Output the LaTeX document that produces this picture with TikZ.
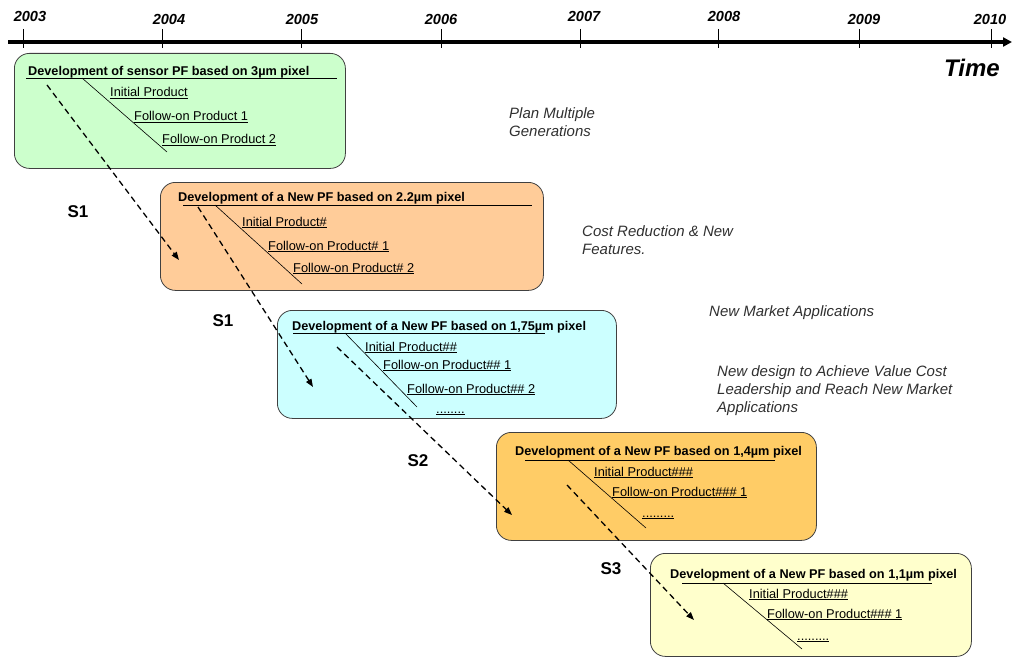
\documentclass[tikz,border=0pt]{standalone}
\usepackage{fontspec}
\setmainfont{Liberation Sans}
\usetikzlibrary{arrows.meta}
\definecolor{cgreen}{HTML}{CCFFCC}
\definecolor{cpeach}{HTML}{FFCC99}
\definecolor{ccyan}{HTML}{CCFFFF}
\definecolor{corange}{HTML}{FFCC66}
\definecolor{cyellow}{HTML}{FFFFCC}
\definecolor{notegray}{HTML}{303030}
\tikzset{
  pbox/.style={draw=black!75, line width=0.8pt, rounded corners=15pt},
  ttl/.style={anchor=base west, inner sep=0pt, font=\fontsize{12.7}{14}\selectfont\bfseries},
  item/.style={anchor=base west, inner sep=0pt, font=\fontsize{12.8}{14}\selectfont},
  uline/.style={line width=0.8pt},
  diag/.style={line width=0.6pt},
  note/.style={anchor=base west, inner sep=0pt, align=left, text=notegray, font=\fontsize{15}{18}\selectfont\itshape},
  yr/.style={anchor=base, inner sep=0pt, font=\fontsize{14.6}{16}\selectfont\bfseries\itshape},
  slabel/.style={inner sep=0pt, font=\fontsize{17}{20}\selectfont\bfseries},
  flow/.style={line width=1.3pt, dash pattern=on 6pt off 4pt, -{Triangle[length=8pt,width=6pt]}},
  tick/.style={line width=0.8pt}
}
\begin{document}
\begin{tikzpicture}[x=1pt,y=-1pt]
\useasboundingbox (0,0) rectangle (1012,658);
% timeline
\coordinate (ax0) at (8,42);
\coordinate (ax1) at (1012,42);
\draw[line width=3.5pt, -{Triangle[length=9pt,width=9pt]}] (ax0) -- (ax1);
\foreach \x/\y in {23/2003, 162/2004, 301/2005, 441/2006, 580/2007, 718/2008, 859/2009, 991/2010}{
  \coordinate (t\y a) at (\x,29);
  \coordinate (t\y b) at (\x,48);
  \draw[tick] (t\y a) -- (t\y b);
}
\node[yr] (y2003) at (30,22) {2003};
\node[yr] (y2004) at (169,25) {2004};
\node[yr] (y2005) at (302,25) {2005};
\node[yr] (y2006) at (441,25) {2006};
\node[yr] (y2007) at (584,22) {2007};
\node[yr] (y2008) at (724,22) {2008};
\node[yr] (y2009) at (864,25) {2009};
\node[yr] (y2010) at (990,25) {2010};
\node[anchor=base west, inner sep=0pt, font=\fontsize{24}{26}\selectfont\bfseries\itshape] (time) at (944,76.5) {Time};

% box 1
\node[pbox, fill=cgreen, minimum width=331pt, minimum height=115pt, anchor=north west] (b1) at (14,53) {};
\node[ttl] (b1t) at (28,75.5) {Development of sensor PF based on 3µm pixel};
\coordinate (b1u0) at (26,78); \coordinate (b1u1) at (337,78);
\draw[uline] (b1u0) -- (b1u1);
\coordinate (b1d0) at (82,78); \coordinate (b1d1) at (167,152);
\draw[diag] (b1d0) -- (b1d1);
\node[item] (b1i1) at (110,97) {\underline{Initial Product}};
\node[item] (b1i2) at (134,121) {\underline{Follow-on Product 1}};
\node[item] (b1i3) at (162,144) {\underline{Follow-on Product 2}};

% box 2
\node[pbox, fill=cpeach, minimum width=383pt, minimum height=108pt, anchor=north west] (b2) at (160,182) {};
\node[ttl] (b2t) at (178,201.5) {Development of a New PF based on 2.2µm pixel};
\coordinate (b2u0) at (183,205); \coordinate (b2u1) at (532,205);
\draw[uline] (b2u0) -- (b2u1);
\coordinate (b2d0) at (215,205); \coordinate (b2d1) at (302,284);
\draw[diag] (b2d0) -- (b2d1);
\node[item] (b2i1) at (242,226) {\underline{Initial Product\#}};
\node[item] (b2i2) at (268,250) {\underline{Follow-on Product\# 1}};
\node[item] (b2i3) at (293,272) {\underline{Follow-on Product\# 2}};

% box 3
\node[pbox, fill=ccyan, minimum width=339pt, minimum height=108pt, anchor=north west] (b3) at (277,310) {};
\node[ttl] (b3t) at (292,330.5) {Development of a New PF based on 1,75µm pixel};
\coordinate (b3u0) at (293,333); \coordinate (b3u1) at (545,333);
\draw[uline] (b3u0) -- (b3u1);
\coordinate (b3d0) at (345,333); \coordinate (b3d1) at (417,407);
\draw[diag] (b3d0) -- (b3d1);
\node[item] (b3i1) at (365,351) {\underline{Initial Product\#\#}};
\node[item] (b3i2) at (383,369) {\underline{Follow-on Product\#\# 1}};
\node[item] (b3i3) at (407,393) {\underline{Follow-on Product\#\# 2}};
\node[item] (b3i4) at (436,413) {\underline{........}};

% box 4
\node[pbox, fill=corange, minimum width=320pt, minimum height=108pt, anchor=north west] (b4) at (496,432) {};
\node[ttl] (b4t) at (515,455) {Development of a New PF based on 1,4µm pixel};
\coordinate (b4u0) at (525,460); \coordinate (b4u1) at (775,460);
\draw[uline] (b4u0) -- (b4u1);
\coordinate (b4d0) at (568,460); \coordinate (b4d1) at (646,528);
\draw[diag] (b4d0) -- (b4d1);
\node[item] (b4i1) at (594,476) {\underline{Initial Product\#\#\#}};
\node[item] (b4i2) at (612,496) {\underline{Follow-on Product\#\#\# 1}};
\node[item] (b4i3) at (642,517) {\underline{.........}};

% box 5
\node[pbox, fill=cyellow, minimum width=321pt, minimum height=103pt, anchor=north west] (b5) at (650,553) {};
\node[ttl] (b5t) at (670,578) {Development of a New PF based on 1,1µm pixel};
\coordinate (b5u0) at (682,583); \coordinate (b5u1) at (932,583);
\draw[uline] (b5u0) -- (b5u1);
\coordinate (b5d0) at (723,583); \coordinate (b5d1) at (802,649);
\draw[diag] (b5d0) -- (b5d1);
\node[item] (b5i1) at (749,598) {\underline{Initial Product\#\#\#}};
\node[item] (b5i2) at (767,618) {\underline{Follow-on Product\#\#\# 1}};
\node[item] (b5i3) at (797,640) {\underline{.........}};

% flow arrows
\coordinate (fa0) at (47,85);   \coordinate (fa1) at (179,260);
\coordinate (fb0) at (198,207); \coordinate (fb1) at (313,387);
\coordinate (fc0) at (337,347); \coordinate (fc1) at (512,515);
\coordinate (fd0) at (567,485); \coordinate (fd1) at (694,620);
\draw[flow] (fa0) -- (fa1);
\draw[flow] (fb0) -- (fb1);
\draw[flow] (fc0) -- (fc1);
\draw[flow] (fd0) -- (fd1);

% step labels
\node[slabel] (s1a) at (78,212) {S1};
\node[slabel] (s1b) at (223,321) {S1};
\node[slabel] (s2) at (418,461) {S2};
\node[slabel] (s3) at (611,569) {S3};

% notes (base anchor = baseline of last line)
\node[note] (n1) at (509,137) {Plan Multiple\\Generations};
\node[note] (n2) at (582,254) {Cost Reduction \& New\\Features.};
\node[note] (n3) at (709,316) {New Market Applications};
\node[note] (n4) at (717,412) {New design to Achieve Value Cost\\Leadership and Reach New Market\\Applications};
\end{tikzpicture}
\end{document}
